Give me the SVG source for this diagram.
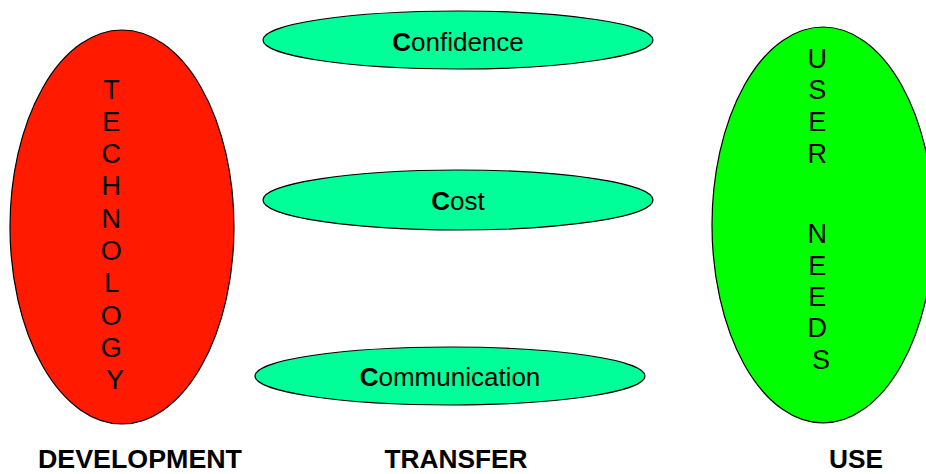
<svg xmlns="http://www.w3.org/2000/svg" width="926" height="474" viewBox="0 0 926 474">
  <style>
    .big { stroke: #000; stroke-width: 1.2; }
    .pill { fill: #00ff99; stroke: #000; stroke-width: 1.2; }
    .col { font-family: "Liberation Sans", Arial, sans-serif; font-size: 27px; fill: #000; text-anchor: middle; }
    .lbl { font-family: "Liberation Sans", Arial, sans-serif; font-size: 26px; fill: #000; text-anchor: middle; }
    .lbl tspan.b { font-weight: bold; }
    .foot { font-family: "Liberation Sans", Arial, sans-serif; font-size: 26px; font-weight: bold; fill: #000; text-anchor: middle; }
  </style>
  <rect width="926" height="474" fill="#ffffff"/>

  <g id="technology">
    <ellipse class="big" cx="122" cy="227" rx="112" ry="197" fill="#ff1a00"/>
    <text class="col">
      <tspan x="115" y="98.5">T</tspan>
      <tspan x="115" y="130.8">E</tspan>
      <tspan x="115" y="163.1">C</tspan>
      <tspan x="115" y="195.4">H</tspan>
      <tspan x="115" y="227.7">N</tspan>
      <tspan x="115" y="260">O</tspan>
      <tspan x="115" y="292.3">L</tspan>
      <tspan x="115" y="324.6">O</tspan>
      <tspan x="115" y="356.9">G</tspan>
      <tspan x="115" y="389.2">Y</tspan>
    </text>
  </g>

  <g id="user-needs">
    <ellipse class="big" cx="823" cy="225" rx="111" ry="198" fill="#00ff00"/>
    <text class="col">
      <tspan x="821" y="67.5">U</tspan>
      <tspan x="821" y="99.3">S</tspan>
      <tspan x="821" y="131">E</tspan>
      <tspan x="821" y="163">R</tspan>
      <tspan x="821" y="243.3">N</tspan>
      <tspan x="821" y="274.5">E</tspan>
      <tspan x="821" y="305.7">E</tspan>
      <tspan x="821" y="337">D</tspan>
      <tspan x="821" y="368.5">S</tspan>
    </text>
  </g>

  <g id="confidence">
    <ellipse class="pill" cx="458" cy="40" rx="195" ry="29"/>
    <text class="lbl" x="458" y="51"><tspan class="b">C</tspan>onfidence</text>
  </g>

  <g id="cost">
    <ellipse class="pill" cx="458" cy="200" rx="195" ry="30"/>
    <text class="lbl" x="458" y="210"><tspan class="b">C</tspan>ost</text>
  </g>

  <g id="communication">
    <ellipse class="pill" cx="450" cy="376" rx="195" ry="29"/>
    <text class="lbl" x="450" y="386"><tspan class="b">C</tspan>ommunication</text>
  </g>

  <g id="connectors"></g>

  <g id="stage-labels">
    <text class="foot" x="140" y="468" textLength="204" lengthAdjust="spacingAndGlyphs">DEVELOPMENT</text>
    <text class="foot" x="456" y="468" textLength="143" lengthAdjust="spacingAndGlyphs">TRANSFER</text>
    <text class="foot" x="856" y="468" textLength="54" lengthAdjust="spacingAndGlyphs">USE</text>
  </g>
</svg>
